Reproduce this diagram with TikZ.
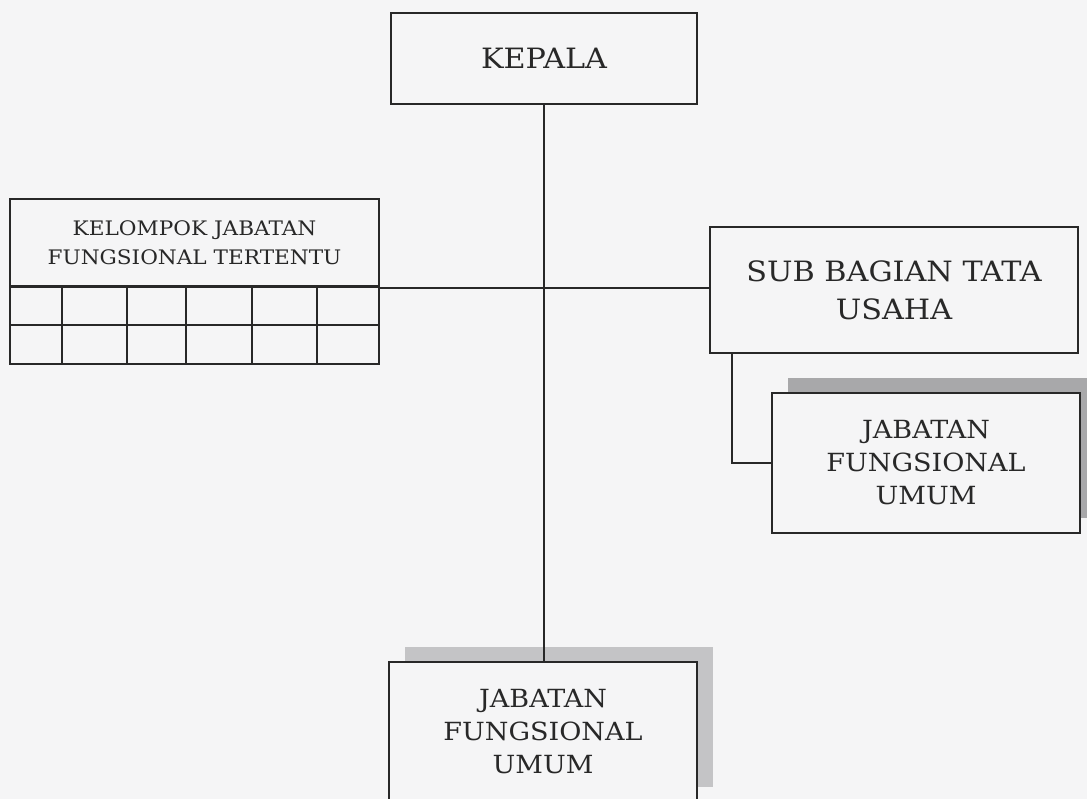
\documentclass[tikz,border=0pt]{standalone}
\usepackage{fontspec}
\setmainfont{DejaVu Serif}[FakeStretch=1.08]
\usetikzlibrary{positioning, shadows}
\definecolor{bgcol}{RGB}{245,245,246}
\definecolor{linecol}{RGB}{40,40,40}
\definecolor{shadowcol}{RGB}{168,168,170}
\definecolor{shadowlight}{RGB}{196,196,198}

\begin{document}
\begin{tikzpicture}[x=1pt, y=-1pt,
    block/.style={rectangle, draw=linecol, fill=bgcol, line width=1.6pt, text=linecol, align=center, inner sep=0pt},
    shadowed/.style={drop shadow={shadow xshift=16pt, shadow yshift=15pt, fill=#1, opacity=1}},
    line/.style={draw=linecol, line width=1.6pt}]

% Page
\path[clip] (0,0) rectangle (1087,799);
\fill[bgcol] (0,0) rectangle (1087,799);

% Nodes
\node [block, minimum width=306pt, minimum height=91pt, font=\fontsize{28}{30}\selectfont] (kepala) at (544,58.5) {KEPALA};
\node [block, minimum width=369pt, minimum height=88pt, font=\fontsize{20}{29}\selectfont] (kjft) at (194.5,243) {KELOMPOK JABATAN\\FUNGSIONAL TERTENTU};
\node [block, minimum width=368pt, minimum height=126pt, font=\fontsize{28}{38}\selectfont] (sub) at (894,290) {SUB BAGIAN TATA\\USAHA};
\node [block, shadowed=shadowcol, minimum width=308pt, minimum height=140pt, font=\fontsize{25}{33}\selectfont] (jfu1) at (926,463) {JABATAN\\FUNGSIONAL\\UMUM};
\node [block, shadowed=shadowlight, minimum width=308pt, minimum height=140pt, font=\fontsize{25}{33}\selectfont] (jfu2) at (543,732) {JABATAN\\FUNGSIONAL\\UMUM};

% Grid under the title
\foreach \xa/\xb in {10/62, 62/127, 127/186, 186/252, 252/317, 317/379}
  \draw[line] (\xa,286) rectangle (\xb,325) (\xa,325) rectangle (\xb,364);

% Lines
\draw[line] (kepala.south) -- (kepala.south |- jfu2.north);
\draw[line] (kjft.south east) -- (kjft.south east -| sub.west);
\draw[line] ([xshift=23pt]sub.south west) |- (jfu1.west);

\end{tikzpicture}
\end{document}
